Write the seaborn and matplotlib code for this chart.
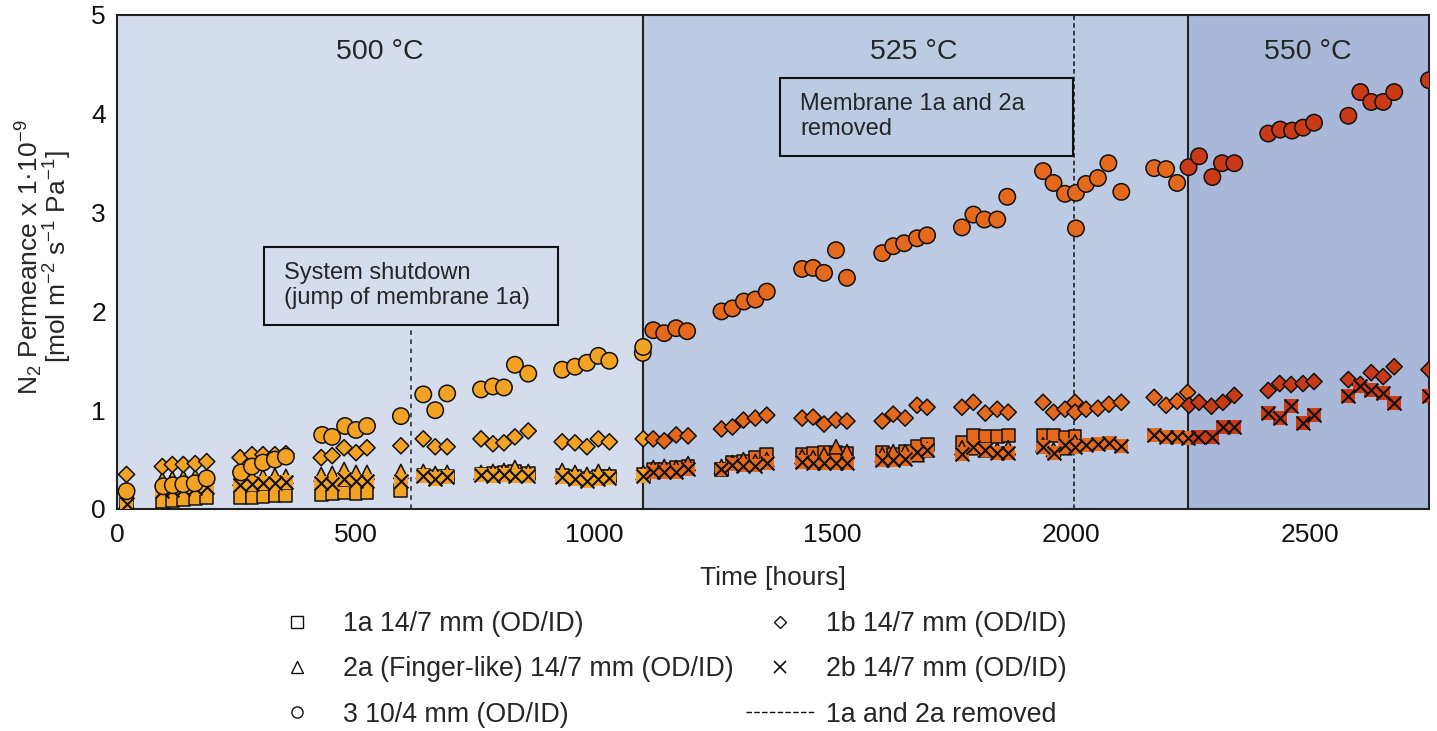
import numpy as np
import pandas as pd
import matplotlib
matplotlib.use("Agg")
import matplotlib.pyplot as plt
from matplotlib.lines import Line2D
from matplotlib.patches import Rectangle
import seaborn as sns

# ---------------- data ----------------
temps = ["500 °C", "525 °C", "550 °C"]
temp_bounds = [1104, 2245]          # hours where the temperature changes
temp_colors = ["#F2A324", "#E5691C", "#C93A16"]
bg_colors = ["#D5DCEB", "#BDCAE3", "#A9B8D9"]

t_base = [20, 95, 116, 139, 164, 188, 258, 283, 306, 331, 354, 428, 451, 476, 501, 524, 595,
          642, 667, 692, 763, 788, 811, 834, 862, 933, 960, 985, 1009, 1032, 1103,
          1124, 1147, 1172, 1197, 1267, 1290, 1313, 1338, 1362, 1436, 1459, 1482, 1507, 1530,
          1604, 1627, 1652, 1677, 1698, 1771, 1795, 1820, 1845, 1868, 1941, 1963, 1987, 2008]

# 1a 14/7 mm (squares)
t_1a = t_base
p_1a = [0.06, 0.07, 0.09, 0.10, 0.11, 0.12, 0.12, 0.12, 0.13, 0.14, 0.14, 0.15, 0.16, 0.17, 0.16, 0.17, 0.19,
        0.34, 0.33, 0.33, 0.35, 0.36, 0.37, 0.38, 0.36, 0.34, 0.33, 0.31, 0.33, 0.33, 0.35,
        0.40, 0.40, 0.42, 0.43, 0.40, 0.47, 0.48, 0.52, 0.55, 0.55, 0.56, 0.57, 0.57, 0.56,
        0.57, 0.55, 0.58, 0.63, 0.65, 0.67, 0.74, 0.73, 0.73, 0.74, 0.74, 0.74, 0.72, 0.73]

# 2a (Finger-like) 14/7 mm (triangles)
t_2a = t_base
p_2a = [0.08, 0.30, 0.31, 0.32, 0.33, 0.33, 0.31, 0.32, 0.33, 0.34, 0.33, 0.35, 0.36, 0.40, 0.37, 0.37, 0.38,
        0.38, 0.36, 0.37, 0.37, 0.38, 0.39, 0.42, 0.38, 0.39, 0.37, 0.35, 0.38, 0.35, 0.37,
        0.42, 0.43, 0.42, 0.46, 0.43, 0.47, 0.50, 0.48, 0.50, 0.53, 0.52, 0.55, 0.63, 0.58,
        0.55, 0.58, 0.58, 0.55, 0.60, 0.62, 0.62, 0.60, 0.60, 0.62, 0.65, 0.60, 0.62, 0.68]

# 1b 14/7 mm (diamonds)
t_1b = t_base[:-1] + [2008, 2008, 2031, 2056, 2079, 2105, 2174, 2199, 2222, 2244, 2247, 2268, 2294,
                      2318, 2342, 2413, 2437, 2461, 2486, 2509, 2581, 2606, 2629, 2654, 2677, 2750]
p_1b = [0.35, 0.43, 0.45, 0.45, 0.46, 0.48, 0.52, 0.55, 0.55, 0.55, 0.56, 0.52, 0.54, 0.62, 0.57, 0.62, 0.64,
        0.71, 0.63, 0.63, 0.71, 0.66, 0.67, 0.73, 0.79, 0.68, 0.67, 0.63, 0.71, 0.68, 0.71,
        0.71, 0.69, 0.75, 0.74, 0.81, 0.83, 0.90, 0.92, 0.95, 0.92, 0.93, 0.86, 0.90, 0.89,
        0.89, 0.96, 0.92, 1.05, 1.03, 1.03, 1.08, 0.97, 1.01, 0.98, 1.08, 0.98, 1.01,
        1.08, 0.98, 1.01, 1.02, 1.06, 1.08, 1.13, 1.05, 1.09, 1.18, 1.05, 1.08, 1.04,
        1.08, 1.15, 1.20, 1.27, 1.26, 1.27, 1.29, 1.31, 1.26, 1.38, 1.34, 1.44, 1.41]

# 2b 14/7 mm (crosses)
t_2b = t_base + [2031, 2056, 2079, 2105, 2174, 2199, 2222, 2244, 2266, 2296, 2318, 2342, 2413,
                 2437, 2461, 2486, 2509, 2581, 2606, 2629, 2654, 2677, 2750]
p_2b = [0.05, 0.18, 0.19, 0.20, 0.21, 0.22, 0.24, 0.25, 0.26, 0.26, 0.27, 0.26, 0.25, 0.30, 0.28, 0.28, 0.28,
        0.33, 0.30, 0.32, 0.34, 0.33, 0.34, 0.33, 0.33, 0.32, 0.30, 0.28, 0.30, 0.31, 0.33,
        0.37, 0.37, 0.37, 0.40, 0.40, 0.45, 0.44, 0.44, 0.47, 0.48, 0.47, 0.47, 0.47, 0.47,
        0.50, 0.50, 0.51, 0.58, 0.60, 0.56, 0.63, 0.60, 0.57, 0.57, 0.63, 0.57, 0.65, 0.63,
        0.65, 0.66, 0.67, 0.64, 0.75, 0.73, 0.73, 0.72, 0.73, 0.73, 0.83, 0.83, 0.97,
        0.92, 1.04, 0.87, 0.95, 1.14, 1.24, 1.20, 1.17, 1.07, 1.14]

# 3 10/4 mm (circles)
t_3 = [20, 97, 117, 139, 163, 188, 260, 283, 306, 331, 354, 430, 451, 478, 501, 524, 595,
       642, 667, 692, 763, 788, 811, 834, 862, 933, 960, 985, 1009, 1032, 1102, 1103,
       1124, 1147, 1172, 1195, 1267, 1290, 1314, 1338, 1362, 1436, 1459, 1482, 1507, 1530,
       1604, 1627, 1650, 1677, 1698, 1771, 1795, 1818, 1845, 1866, 1941, 1963, 1987, 2010, 2010,
       2031, 2056, 2078, 2105, 2174, 2199, 2222, 2246, 2268, 2296, 2316, 2342, 2413, 2438,
       2463, 2486, 2509, 2581, 2606, 2629, 2654, 2677, 2750]
p_3 = [0.18, 0.23, 0.24, 0.25, 0.26, 0.31, 0.37, 0.43, 0.47, 0.50, 0.53, 0.75, 0.73, 0.84, 0.80, 0.84, 0.94,
       1.16, 1.00, 1.17, 1.21, 1.24, 1.23, 1.46, 1.37, 1.41, 1.44, 1.48, 1.55, 1.50, 1.58, 1.64,
       1.81, 1.78, 1.83, 1.80, 2.00, 2.03, 2.10, 2.12, 2.20, 2.43, 2.44, 2.39, 2.62, 2.34,
       2.59, 2.66, 2.69, 2.74, 2.77, 2.85, 2.98, 2.93, 2.93, 3.16, 3.42, 3.30, 3.19, 3.20, 2.84,
       3.29, 3.35, 3.50, 3.21, 3.45, 3.44, 3.30, 3.46, 3.57, 3.36, 3.50, 3.50, 3.80, 3.84,
       3.83, 3.86, 3.91, 3.98, 4.22, 4.12, 4.12, 4.22, 4.34]

series_labels = ["1a 14/7 mm (OD/ID)", "2a (Finger-like) 14/7 mm (OD/ID)", "3 10/4 mm (OD/ID)",
                 "1b 14/7 mm (OD/ID)", "2b 14/7 mm (OD/ID)", "1a and 2a removed"]
shutdown_time = 616
removal_time = 2006

# ---------------- style ----------------
sns.set_theme(style="white")
plt.rcParams["font.family"] = ["Liberation Sans", "DejaVu Sans"]
plt.rcParams["mathtext.fontset"] = "custom"
plt.rcParams["mathtext.rm"] = "Liberation Sans"
plt.rcParams["mathtext.it"] = "Liberation Sans:italic"
plt.rcParams["mathtext.bf"] = "Liberation Sans:bold"
plt.rcParams["axes.unicode_minus"] = True

def frame(t, p):
    df = pd.DataFrame({"time": t, "value": p})
    idx = np.searchsorted(temp_bounds, df["time"].values, side="right")
    df["temp"] = [temps[i] for i in idx]
    return df

pal = dict(zip(temps, temp_colors))
FS = 19

fig = plt.figure(figsize=(14.37, 7.31), dpi=100)
W, H = 1437, 731
ax = fig.add_axes([117 / W, 1 - 509 / H, (1429 - 117) / W, (509 - 15) / H])
ax.set_facecolor("none")

xmax = 2750
edges = [0, 1103, temp_bounds[1], xmax]
for i in range(3):
    ax.axvspan(edges[i], edges[i + 1], color=bg_colors[i], zorder=0, lw=0)

kw = dict(hue="temp", hue_order=temps, palette=pal, legend=False, ax=ax)
ek = dict(edgecolor="#111111", linewidth=1.1)
sns.scatterplot(data=frame(t_1a, p_1a), x="time", y="value", marker="s", s=85, zorder=3, **kw, **ek)
sns.scatterplot(data=frame(t_2a, p_2a), x="time", y="value", marker="^", s=105, zorder=4, **kw, **ek)
sns.scatterplot(data=frame(t_1b, p_1b), x="time", y="value", marker="D", s=68, zorder=5, **kw, **ek)
df2b = frame(t_2b, p_2b)
sns.scatterplot(data=df2b, x="time", y="value", marker="s", s=100, zorder=6, edgecolor="none", linewidth=0, **kw)
sns.scatterplot(data=df2b, x="time", y="value", marker="x", s=100, zorder=7, color="#111111",
                linewidth=1.5, legend=False, ax=ax)
sns.scatterplot(data=frame(t_3, p_3), x="time", y="value", marker="o", s=140, zorder=8, **kw, **ek)

# temperature change lines
ax.axvline(1103, color="#222222", lw=1.5, zorder=2)
ax.axvline(temp_bounds[1], color="#222222", lw=1.5, zorder=2)
ax.axvline(removal_time, color="#111111", lw=1.1, ls=(0, (3, 2)), zorder=2)

# annotation boxes
ax.add_patch(Rectangle((308, 1.86), 925 - 308, 2.65 - 1.86, fill=False, ec="#111111", lw=1.5, zorder=9))
ax.plot([shutdown_time, shutdown_time], [0, 1.86], color="#222222", lw=1.1, ls=(0, (3, 3)), zorder=2)
ax.text(350, 2.26, "System shutdown\n(jump of membrane 1a)", fontsize=17, ha="left", va="center",
        linespacing=1.2, zorder=10)
ax.add_patch(Rectangle((1390, 3.57), 2004 - 1390, 4.36 - 3.57, fill=False, ec="#111111", lw=1.5, zorder=9))
ax.text(1432, 3.97, "Membrane 1a and 2a\nremoved", fontsize=17, ha="left", va="center",
        linespacing=1.2, zorder=10)

for name, xc in zip(temps, [551, 1669, 2497]):
    ax.text(xc, 4.63, name, fontsize=20.5, ha="center", va="center", zorder=10)

ax.set_xlim(0, xmax)
ax.set_ylim(0, 5)
ax.set_xticks(np.arange(0, 2501, 500))
ax.set_yticks(np.arange(0, 6, 1))
ax.tick_params(axis="both", direction="in", length=6, width=1.2, labelsize=FS, colors="#111111")
ax.tick_params(axis="x", pad=10)
ax.tick_params(axis="y", pad=8)
for s in ax.spines.values():
    s.set_visible(True)
    s.set_color("#222222")
    s.set_linewidth(1.5)

ax.set_xlabel("Time [hours]", fontsize=FS, labelpad=14)
ax.set_ylabel("N$_2$ Permeance x 1·10$^{-9}$\n[mol m$^{-2}$ s$^{-1}$ Pa$^{-1}$]", fontsize=FS,
              linespacing=0.85)
ax.yaxis.set_label_coords(-0.033, 0.51)

# legend
mk = dict(linestyle="none", markerfacecolor="white", markeredgecolor="#111111", markeredgewidth=1.0)
handles = [
    Line2D([], [], marker="s", markersize=8, **mk),
    Line2D([], [], marker="^", markersize=8, **mk),
    Line2D([], [], marker="o", markersize=8, **mk),
    Line2D([], [], marker="D", markersize=6, **mk),
    Line2D([], [], marker="x", markersize=8, linestyle="none", color="#111111", markeredgewidth=1.2),
    Line2D([], [], color="#111111", lw=1.0, ls=(0, (4, 1.6))),
]
fig.legend(handles, series_labels, ncol=2, loc="upper left", bbox_to_anchor=(263 / W, 1 - 611 / H),
           frameon=False, fontsize=19.3, handlelength=2.55, handletextpad=0.42, columnspacing=0.48,
           labelspacing=0.72, borderpad=0, borderaxespad=0)

fig.savefig("out.png", dpi=100)
